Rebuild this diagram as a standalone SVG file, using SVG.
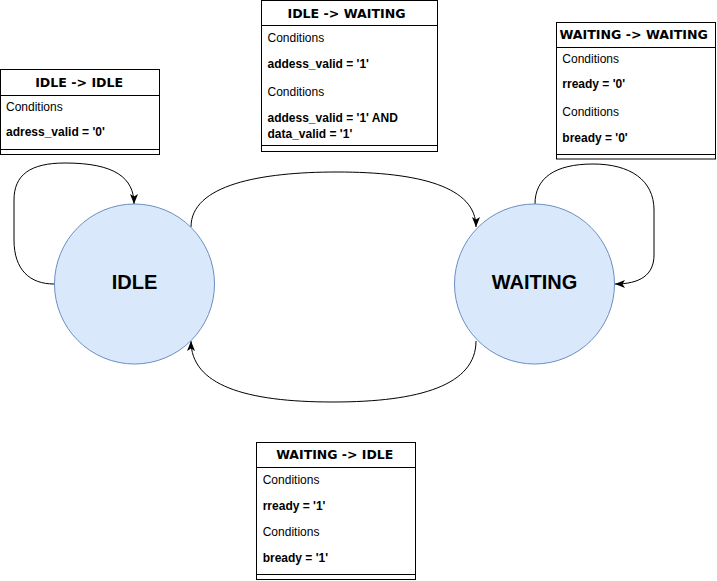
<svg xmlns="http://www.w3.org/2000/svg" width="717" height="581" viewBox="0 0 717 581">
<style>
.box{fill:#ffffff;stroke:#000000;stroke-width:1}
.ln{stroke:#000000;stroke-width:1;fill:none}
.hdr{font-family:"DejaVu Sans",Verdana,sans-serif;font-weight:bold;font-size:12.5px;fill:#000000;text-anchor:middle}
.lbl{font-family:"Liberation Sans",Arial,sans-serif;font-size:12px;fill:#000000}
.b{font-weight:bold}
.state{fill:#dae8fc;stroke:#6c8ebf;stroke-width:1}
.stxt{font-family:"Liberation Sans",Arial,sans-serif;font-weight:bold;font-size:20px;fill:#000000;text-anchor:middle}
.edge{fill:none;stroke:#000000;stroke-width:1}
</style>
<defs>
<marker id="arr" markerUnits="userSpaceOnUse" viewBox="0 0 10 8" markerWidth="10" markerHeight="8" refX="10" refY="4" orient="auto">
<path d="M0,0 L10,4 L0,8 L2.5,4 Z" fill="#000000"/>
</marker>
</defs>

<g id="connectors">
<path class="edge" d="M54,284 C30,284 14,270 14,240 L14,200 C14,175 30,163 65,163 C115,163 134,178 134,204" marker-end="url(#arr)"/>
<path class="edge" d="M191,227 C191,185 260,172 337,172 C420,172 476,187 476,227" marker-end="url(#arr)"/>
<path class="edge" d="M535,204 C535,178 555,164 593,164 C630,164 654,180 654,210 L654,255 C654,275 640,284 615,284" marker-end="url(#arr)"/>
<path class="edge" d="M476,341 C476,385 420,402 333,402 C245,402 191,385 191,341" marker-end="url(#arr)"/>
</g>

<g id="idle">
<circle class="state" cx="134.5" cy="284" r="80"/>
<text class="stxt" x="134.5" y="289">IDLE</text>
</g>

<g id="waiting">
<circle class="state" cx="534.5" cy="284" r="80"/>
<text class="stxt" x="534.5" y="289">WAITING</text>
</g>

<g id="idle-idle">
<rect class="box" x="0.5" y="69.5" width="159" height="85"/>
<line class="ln" x1="0.5" y1="95.5" x2="159.5" y2="95.5"/>
<line class="ln" x1="0.5" y1="149.5" x2="159.5" y2="149.5"/>
<text class="hdr" x="79.2" y="86.5" textLength="88" lengthAdjust="spacingAndGlyphs">IDLE -&gt; IDLE</text>
<text class="lbl" x="6" y="111">Conditions</text>
<text class="lbl b" x="6" y="135.5">adress_valid = '0'</text>
</g>

<g id="idle-waiting">
<rect class="box" x="261.5" y="0.5" width="176" height="151"/>
<line class="ln" x1="261.5" y1="25.5" x2="437.5" y2="25.5"/>
<line class="ln" x1="261.5" y1="145.5" x2="437.5" y2="145.5"/>
<text class="hdr" x="346.5" y="17.5" textLength="118" lengthAdjust="spacingAndGlyphs">IDLE -&gt; WAITING</text>
<text class="lbl" x="267.5" y="41.7">Conditions</text>
<text class="lbl b" x="267.5" y="67.7">addess_valid = '1'</text>
<text class="lbl" x="267.5" y="95.7">Conditions</text>
<text class="lbl b" x="267.5" y="121.7">addess_valid = '1' AND</text>
<text class="lbl b" x="267.5" y="137.7">data_valid = '1'</text>
</g>

<g id="waiting-waiting">
<rect class="box" x="556.5" y="22.5" width="159" height="136.5"/>
<line class="ln" x1="556.5" y1="47.5" x2="715.5" y2="47.5"/>
<line class="ln" x1="556.5" y1="154.5" x2="715.5" y2="154.5"/>
<text class="hdr" x="633.7" y="38.5" textLength="148.5" lengthAdjust="spacingAndGlyphs">WAITING -&gt; WAITING</text>
<text class="lbl" x="562.3" y="62.5">Conditions</text>
<text class="lbl b" x="562.3" y="88">rready = '0'</text>
<text class="lbl" x="562.3" y="115.7">Conditions</text>
<text class="lbl b" x="562.3" y="141.5">bready = '0'</text>
</g>

<g id="waiting-idle">
<rect class="box" x="256.5" y="442.5" width="159" height="137"/>
<line class="ln" x1="256.5" y1="467.5" x2="415.5" y2="467.5"/>
<line class="ln" x1="256.5" y1="574.5" x2="415.5" y2="574.5"/>
<text class="hdr" x="334.7" y="459" textLength="117" lengthAdjust="spacingAndGlyphs">WAITING -&gt; IDLE</text>
<text class="lbl" x="262.7" y="483.5">Conditions</text>
<text class="lbl b" x="262.7" y="509.5">rready = '1'</text>
<text class="lbl" x="262.7" y="535.5">Conditions</text>
<text class="lbl b" x="262.7" y="561.5">bready = '1'</text>
</g>
</svg>
